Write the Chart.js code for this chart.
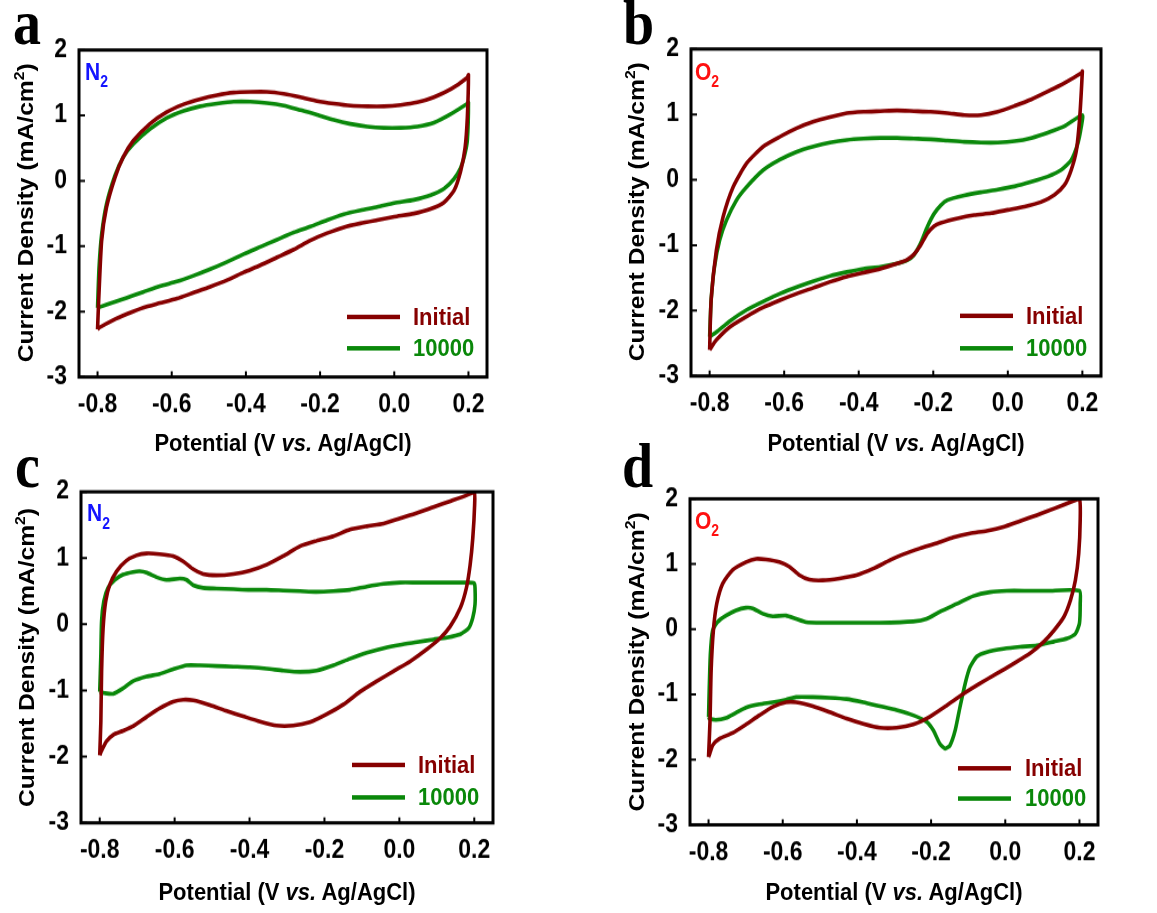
<!DOCTYPE html>
<html>
<head>
<meta charset="utf-8">
<script src="https://cdn.jsdelivr.net/npm/chart.js@4.4.0/dist/chart.umd.min.js"></script>
<style>
  body { margin: 0; background: #fff; width: 1157px; height: 913px; overflow: hidden;
         font-family: "Liberation Sans", Arial, sans-serif; }
  /* the original figure is stretched a little vertically */
  #fig { position: absolute; left: 0; top: 0; width: 1157px; height: 816px;
         transform: scaleY(1.12); transform-origin: 0 0; }
  .panel { position: absolute; width: 578px; height: 408px; }
  .abs { position: absolute; white-space: nowrap; line-height: 1; }
  .letter { font-family: "Liberation Serif", "Times New Roman", serif; font-weight: bold; font-size: 56px; }
  .ytitle { font-weight: bold; font-size: 22px; transform: translate(-50%, -50%) rotate(-90deg); }
  .xtitle { font-weight: bold; font-size: 22px; transform: translate(-50%, -50%); }
  .ytitle sup { font-size: 14px; vertical-align: 9px; line-height: 0; }
  .gas { font-weight: bold; font-size: 21px; }
  .gas sub { font-size: 14px; vertical-align: -7px; line-height: 0; }
  .legtxt { font-weight: bold; font-size: 22px; transform: translateY(-50%); }
  .legline { position: absolute; height: 4px; }
</style>
</head>
<body>
<div id="fig"></div>
<script>
const S = 1.12;
const RED = '#860000';
const GREEN = '#0a880a';

// ---- axis ticks ----
const xMin = -0.85, xMax = 0.25, xStep = 0.2;
const yMin = -3, yMax = 2, yStep = 1;

// ---- panel a (N2) : potential (V) / current density (mA/cm2) ----
const aInitV = [-0.800, -0.797, -0.789, -0.776, -0.753, -0.731, -0.704, -0.659, -0.614, -0.568, -0.523, -0.478, -0.433,
  -0.388, -0.343, -0.298, -0.253, -0.208, -0.163, -0.118, -0.073, -0.028, 0.017, 0.062, 0.107, 0.152, 0.197, 0.200,
  0.197, 0.191, 0.179, 0.161, 0.134, 0.098, 0.053, 0.000, -0.046, -0.091, -0.136, -0.181, -0.226, -0.271, -0.316,
  -0.361, -0.406, -0.451, -0.496, -0.541, -0.586, -0.632, -0.677, -0.722, -0.758, -0.794, -0.800];
const aInitJ = [-2.27, -1.84, -0.92, -0.41, 0.05, 0.36, 0.61, 0.87, 1.05, 1.17, 1.25, 1.31, 1.35,
  1.36, 1.36, 1.33, 1.28, 1.22, 1.18, 1.15, 1.14, 1.14, 1.16, 1.20, 1.28, 1.40, 1.58, 1.62,
  0.97, 0.51, 0.15, -0.15, -0.33, -0.43, -0.50, -0.55, -0.60, -0.65, -0.71, -0.80, -0.91, -1.05, -1.17,
  -1.29, -1.40, -1.52, -1.62, -1.71, -1.80, -1.87, -1.94, -2.04, -2.13, -2.24, -2.27];
const a10kV = [-0.800, -0.796, -0.789, -0.776, -0.753, -0.731, -0.704, -0.659, -0.614, -0.568, -0.523, -0.478, -0.433,
  -0.388, -0.343, -0.298, -0.253, -0.208, -0.163, -0.118, -0.073, -0.028, 0.017, 0.062, 0.107, 0.152, 0.197, 0.200,
  0.197, 0.190, 0.179, 0.161, 0.134, 0.098, 0.053, 0.000, -0.046, -0.091, -0.136, -0.181, -0.226, -0.271, -0.316,
  -0.361, -0.406, -0.451, -0.496, -0.541, -0.586, -0.632, -0.677, -0.722, -0.758, -0.794, -0.800];
const a10kJ = [-1.94, -1.33, -0.82, -0.36, 0.08, 0.36, 0.56, 0.79, 0.96, 1.07, 1.14, 1.18, 1.21,
  1.21, 1.19, 1.15, 1.08, 1.01, 0.93, 0.87, 0.83, 0.81, 0.81, 0.83, 0.89, 1.02, 1.18, 1.20,
  0.62, 0.40, 0.20, 0.03, -0.12, -0.22, -0.29, -0.34, -0.40, -0.45, -0.51, -0.60, -0.70, -0.79, -0.90,
  -1.01, -1.12, -1.24, -1.35, -1.45, -1.54, -1.61, -1.70, -1.79, -1.86, -1.93, -1.94];

// ---- panel b (O2) ----
const bInitV = [-0.800, -0.796, -0.782, -0.764, -0.737, -0.701, -0.656, -0.611, -0.566, -0.521, -0.477, -0.432, -0.387,
  -0.342, -0.297, -0.252, -0.207, -0.162, -0.117, -0.072, -0.027, 0.018, 0.063, 0.107, 0.152, 0.199, 0.200,
  0.193, 0.184, 0.170, 0.152, 0.125, 0.089, 0.045, 0.000, -0.045, -0.090, -0.135, -0.180, -0.198, -0.216, -0.234,
  -0.252, -0.270, -0.297, -0.342, -0.387, -0.432, -0.477, -0.521, -0.566, -0.611, -0.656, -0.701, -0.746, -0.782, -0.800];
const bInitJ = [-2.60, -1.84, -1.08, -0.57, -0.11, 0.25, 0.51, 0.66, 0.79, 0.89, 0.96, 1.02, 1.04,
  1.05, 1.06, 1.05, 1.04, 1.02, 0.99, 0.99, 1.04, 1.13, 1.23, 1.35, 1.48, 1.64, 1.66,
  0.96, 0.45, 0.15, -0.08, -0.23, -0.34, -0.41, -0.46, -0.51, -0.54, -0.59, -0.66, -0.71, -0.82, -1.00,
  -1.14, -1.22, -1.28, -1.36, -1.42, -1.48, -1.56, -1.65, -1.74, -1.84, -1.95, -2.09, -2.25, -2.45, -2.60];
const b10kV = [-0.800, -0.796, -0.787, -0.773, -0.755, -0.728, -0.701, -0.656, -0.611, -0.566, -0.521, -0.477, -0.432,
  -0.387, -0.342, -0.297, -0.252, -0.207, -0.162, -0.117, -0.072, -0.027, 0.018, 0.063, 0.107, 0.152, 0.200,
  0.197, 0.188, 0.170, 0.143, 0.107, 0.063, 0.018, -0.027, -0.072, -0.117, -0.162, -0.180, -0.198, -0.216, -0.234,
  -0.252, -0.270, -0.297, -0.342, -0.387, -0.432, -0.477, -0.521, -0.566, -0.611, -0.656, -0.701, -0.746, -0.782, -0.800];
const b10kJ = [-2.40, -1.84, -1.33, -0.92, -0.62, -0.31, -0.11, 0.15, 0.31, 0.43, 0.51, 0.57, 0.61,
  0.63, 0.64, 0.64, 0.63, 0.62, 0.60, 0.58, 0.57, 0.57, 0.59, 0.64, 0.72, 0.82, 0.99,
  0.81, 0.56, 0.30, 0.15, 0.05, -0.03, -0.10, -0.15, -0.19, -0.24, -0.31, -0.39, -0.52, -0.72, -0.97,
  -1.15, -1.23, -1.28, -1.33, -1.36, -1.41, -1.47, -1.55, -1.64, -1.74, -1.86, -1.99, -2.16, -2.33, -2.40];

// ---- panel c (N2) ----
const cInitV = [-0.800, -0.797, -0.795, -0.791, -0.784, -0.773, -0.755, -0.729, -0.702, -0.675, -0.640, -0.604, -0.577,
  -0.550, -0.524, -0.488, -0.443, -0.399, -0.354, -0.310, -0.265, -0.221, -0.176, -0.132, -0.087, -0.042, 0.002,
  0.047, 0.091, 0.136, 0.180, 0.200,
  0.201, 0.196, 0.189, 0.179, 0.163, 0.136, 0.109, 0.073, 0.029, -0.016, -0.060, -0.105, -0.149, -0.194, -0.239,
  -0.283, -0.328, -0.372, -0.417, -0.461, -0.506, -0.550, -0.577, -0.604, -0.640, -0.675, -0.711, -0.738, -0.764,
  -0.782, -0.796, -0.800];
const cInitJ = [-1.98, -1.47, -0.71, -0.06, 0.35, 0.60, 0.80, 0.96, 1.04, 1.07, 1.06, 1.03, 0.95,
  0.83, 0.76, 0.74, 0.76, 0.81, 0.90, 1.03, 1.18, 1.26, 1.33, 1.43, 1.48, 1.52, 1.60,
  1.68, 1.77, 1.86, 1.95, 2.00,
  1.81, 1.30, 0.90, 0.55, 0.25, -0.03, -0.21, -0.38, -0.56, -0.71, -0.86, -1.02, -1.21, -1.36, -1.48,
  -1.53, -1.53, -1.47, -1.39, -1.31, -1.22, -1.15, -1.14, -1.17, -1.27, -1.40, -1.54, -1.61, -1.67,
  -1.77, -1.92, -1.98];
const c10kV = [-0.800, -0.797, -0.795, -0.789, -0.778, -0.760, -0.738, -0.711, -0.693, -0.675, -0.648, -0.622, -0.586,
  -0.568, -0.550, -0.524, -0.488, -0.443, -0.399, -0.354, -0.310, -0.265, -0.221, -0.176, -0.132, -0.087, -0.042,
  0.002, 0.047, 0.091, 0.136, 0.180, 0.200,
  0.202, 0.202, 0.196, 0.185, 0.163, 0.127, 0.091, 0.047, 0.002, -0.042, -0.087, -0.132, -0.176, -0.221, -0.265,
  -0.310, -0.354, -0.399, -0.443, -0.488, -0.533, -0.568, -0.604, -0.640, -0.675, -0.711, -0.738, -0.764, -0.787, -0.800];
const c10kJ = [-1.02, -0.46, 0.05, 0.35, 0.55, 0.67, 0.75, 0.79, 0.80, 0.78, 0.71, 0.67, 0.69,
  0.67, 0.59, 0.55, 0.54, 0.53, 0.52, 0.52, 0.51, 0.50, 0.49, 0.50, 0.52, 0.57, 0.61,
  0.63, 0.63, 0.63, 0.63, 0.63, 0.62,
  0.55, 0.30, 0.10, -0.06, -0.15, -0.20, -0.23, -0.27, -0.31, -0.36, -0.43, -0.52, -0.62, -0.70, -0.72,
  -0.70, -0.67, -0.65, -0.64, -0.63, -0.62, -0.62, -0.68, -0.75, -0.79, -0.86, -0.97, -1.05, -1.04, -1.02];

// ---- panel d (O2) ----
const dInitV = [-0.800, -0.796, -0.793, -0.787, -0.778, -0.762, -0.735, -0.699, -0.672, -0.645, -0.609, -0.582, -0.555,
  -0.528, -0.492, -0.447, -0.401, -0.356, -0.311, -0.275, -0.230, -0.185, -0.140, -0.095, -0.050, -0.005, 0.040,
  0.085, 0.131, 0.176, 0.200,
  0.202, 0.198, 0.189, 0.176, 0.158, 0.131, 0.104, 0.067, 0.022, -0.023, -0.068, -0.113, -0.158, -0.203, -0.248,
  -0.293, -0.338, -0.383, -0.428, -0.474, -0.519, -0.564, -0.591, -0.627, -0.663, -0.699, -0.735, -0.771, -0.789,
  -0.798, -0.800];
const dInitJ = [-1.96, -1.40, -0.63, -0.02, 0.39, 0.70, 0.91, 1.03, 1.08, 1.07, 1.03, 0.96, 0.83,
  0.76, 0.75, 0.78, 0.83, 0.93, 1.06, 1.15, 1.24, 1.32, 1.41, 1.47, 1.51, 1.57, 1.66,
  1.75, 1.85, 1.95, 2.00,
  1.67, 1.16, 0.75, 0.45, 0.19, -0.02, -0.19, -0.37, -0.53, -0.68, -0.83, -0.99, -1.17, -1.34, -1.46,
  -1.51, -1.51, -1.45, -1.37, -1.27, -1.18, -1.12, -1.12, -1.19, -1.32, -1.46, -1.59, -1.68, -1.78,
  -1.93, -1.96];
const d10kV = [-0.800, -0.798, -0.795, -0.789, -0.776, -0.753, -0.726, -0.699, -0.681, -0.654, -0.627, -0.591, -0.564,
  -0.537, -0.492, -0.428, -0.338, -0.248, -0.212, -0.176, -0.131, -0.086, -0.041, 0.004, 0.067, 0.113, 0.200,
  0.202, 0.200, 0.189, 0.167, 0.131, 0.085, 0.040, -0.005, -0.050, -0.077, -0.095, -0.108, -0.122, -0.135, -0.149,
  -0.162, -0.176, -0.194, -0.212, -0.248, -0.293, -0.338, -0.383, -0.428, -0.474, -0.519, -0.564, -0.591, -0.627,
  -0.663, -0.699, -0.726, -0.753, -0.780, -0.798, -0.800];
const d10kJ = [-1.35, -0.89, -0.37, -0.02, 0.11, 0.21, 0.29, 0.33, 0.32, 0.24, 0.20, 0.21, 0.16,
  0.11, 0.10, 0.10, 0.10, 0.12, 0.16, 0.27, 0.39, 0.51, 0.57, 0.59, 0.59, 0.59, 0.59,
  0.39, 0.09, -0.07, -0.14, -0.19, -0.25, -0.27, -0.30, -0.35, -0.42, -0.58, -0.83, -1.19, -1.55, -1.78,
  -1.83, -1.76, -1.55, -1.42, -1.32, -1.24, -1.18, -1.12, -1.07, -1.05, -1.04, -1.04, -1.08, -1.12,
  -1.15, -1.20, -1.28, -1.36, -1.39, -1.37, -1.35];

const seriesNames = ['Initial', '10000'];

// page-pixel layout of each panel: origin, plot box [l, t, r, b], labels
const panels = [
  { id: 'a', ox: 0,   oy: 0,   box: [79, 50, 487, 377],   gas: 'N', gasColor: '#1414ff', letterX: 13,  letterBase: 43,
    init: [aInitV, aInitJ], cyc: [a10kV, a10kJ], yt: [26, 213],  xt: [283, 443], leg: [347, 317, 348, 413], gasPos: [85, 62] },
  { id: 'b', ox: 579, oy: 0,   box: [691, 49, 1101, 376], gas: 'O', gasColor: '#ff1010', letterX: 623, letterBase: 43,
    init: [bInitV, bInitJ], cyc: [b10kV, b10kJ], yt: [637, 212], xt: [896, 443], leg: [960, 316, 348, 1026], gasPos: [695, 62] },
  { id: 'c', ox: 0,   oy: 456, box: [81, 492, 493, 823],  gas: 'N', gasColor: '#1414ff', letterX: 15,  letterBase: 487,
    init: [cInitV, cInitJ], cyc: [c10kV, c10kJ], yt: [27, 657],  xt: [287, 893], leg: [352, 765, 797, 418], gasPos: [87, 504] },
  { id: 'd', ox: 579, oy: 456, box: [690, 499, 1098, 825], gas: 'O', gasColor: '#ff1010', letterX: 622, letterBase: 487,
    init: [dInitV, dInitJ], cyc: [d10kV, d10kJ], yt: [637, 662], xt: [894, 893], leg: [958, 768, 799, 1025], gasPos: [695, 512] }
];

const fig = document.getElementById('fig');

function addDiv(cls, html, x, yPage, extra) {
  const el = document.createElement('div');
  el.className = 'abs ' + cls;
  el.innerHTML = html;
  el.style.left = x + 'px';
  el.style.top = (yPage / S) + 'px';
  if (extra) Object.assign(el.style, extra);
  fig.appendChild(el);
  return el;
}

function toPoints(v, j) {
  return v.map((x, i) => ({ x: x, y: j[i] }));
}

const framePlugin = {
  id: 'frame',
  afterDatasetsDraw(chart) {
    const { ctx, chartArea: a } = chart;
    const xs = chart.scales.x, ys = chart.scales.y;
    ctx.save();
    ctx.strokeStyle = '#000';
    ctx.lineWidth = 3;
    ctx.strokeRect(a.left, a.top, a.right - a.left, a.bottom - a.top);
    ctx.lineWidth = 2;
    ctx.beginPath();
    xs.ticks.forEach(t => {
      const px = xs.getPixelForValue(t.value);
      ctx.moveTo(px, a.bottom);
      ctx.lineTo(px, a.bottom - 5);
    });
    ys.ticks.forEach(t => {
      const py = ys.getPixelForValue(t.value);
      ctx.moveTo(a.left, py);
      ctx.lineTo(a.left + 6, py);
    });
    ctx.stroke();
    ctx.restore();
  }
};

const tickFont = { family: '"Liberation Sans", Arial, sans-serif', size: 23, weight: 'bold' };

panels.forEach(p => {
  const wrap = document.createElement('div');
  wrap.className = 'panel';
  wrap.style.left = p.ox + 'px';
  wrap.style.top = (p.oy / S) + 'px';
  const cv = document.createElement('canvas');
  cv.width = 578; cv.height = 408;
  wrap.appendChild(cv);
  fig.appendChild(wrap);

  const left = p.box[0] - p.ox, right = p.box[2] - p.ox;
  const top = (p.box[1] - p.oy) / S, bottom = (p.box[3] - p.oy) / S;
  const yW = 50, xH = 50;

  new Chart(cv, {
    type: 'scatter',
    data: {
      datasets: [
        { label: seriesNames[0], data: toPoints(p.init[0], p.init[1]), borderColor: RED },
        { label: seriesNames[1], data: toPoints(p.cyc[0], p.cyc[1]), borderColor: GREEN }
      ].map(d => Object.assign(d, { showLine: true, pointRadius: 0, borderWidth: 3.6, tension: 0.2, fill: false }))
    },
    options: {
      responsive: false,
      animation: false,
      events: [],
      layout: { padding: { left: left - yW, right: 578 - right, top: top, bottom: 408 - bottom - xH } },
      plugins: { legend: { display: false }, tooltip: { enabled: false } },
      scales: {
        x: {
          type: 'linear', min: xMin, max: xMax,
          afterFit: s => { s.height = xH; },
          grid: { display: false, drawTicks: false },
          border: { display: false },
          ticks: { stepSize: xStep, includeBounds: false, maxRotation: 0, autoSkip: false, padding: 11,
                   color: '#000', font: tickFont, callback: v => v.toFixed(1) }
        },
        y: {
          type: 'linear', min: yMin, max: yMax,
          afterFit: s => { s.width = yW; },
          grid: { display: false, drawTicks: false },
          border: { display: false },
          ticks: { stepSize: yStep, padding: 12, color: '#000', font: tickFont, callback: v => String(v) }
        }
      }
    },
    plugins: [framePlugin]
  });

  // panel letter
  addDiv('letter', p.id, p.letterX, p.letterBase - 0.8375 * 56 * S);
  // axis titles
  addDiv('ytitle', 'Current Density (mA/cm<sup>2</sup>)', p.yt[0], p.yt[1]);
  addDiv('xtitle', 'Potential (V <i>vs.</i> Ag/AgCl)', p.xt[0], p.xt[1]);
  // gas label
  addDiv('gas', p.gas + '<sub>2</sub>', p.gasPos[0], p.gasPos[1] - 0.1305 * 21 * S, { color: p.gasColor });
  // legend
  const [lx, ly1, ly2, tx] = p.leg;
  [[ly1, RED, seriesNames[0]], [ly2, GREEN, seriesNames[1]]].forEach(([ly, col, name]) => {
    const ln = document.createElement('div');
    ln.className = 'legline';
    ln.style.left = lx + 'px';
    ln.style.width = '53px';
    ln.style.top = Math.round(ly / S - 2) + 'px';
    ln.style.background = col;
    fig.appendChild(ln);
    addDiv('legtxt', name, tx, ly, { color: col });
  });
});
</script>
</body>
</html>
